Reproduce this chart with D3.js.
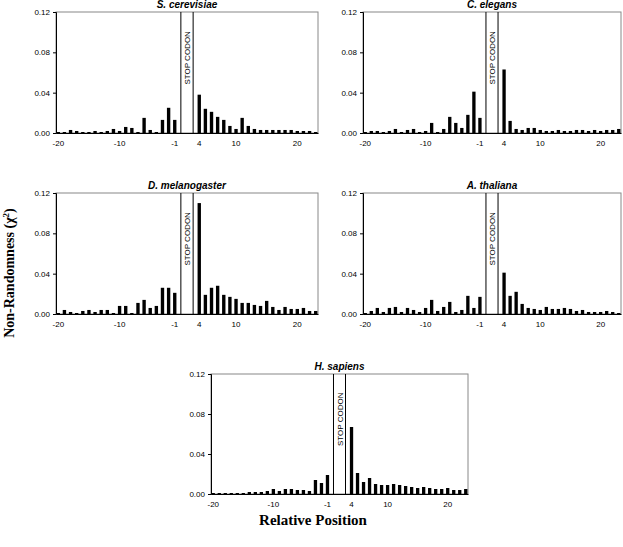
<!DOCTYPE html>
<html><head><meta charset="utf-8">
<script src="https://cdn.jsdelivr.net/npm/d3@7"></script>
<style>body{margin:0;background:#fff}</style></head>
<body><svg id="c" width="623" height="547"></svg>
<script>
const positions = d3.range(-20,0).concat([1,2,3]).concat(d3.range(4,24));
const up = d3.range(-20,0), down = d3.range(4,24);
const species = ["S. cerevisiae","C. elegans","D. melanogaster","A. thaliana","H. sapiens"];
const scerUp = [.001,.001,.003,.002,.001,.001,.002,.001,.002,.004,.002,.006,.005,.001,.015,.003,.001,.013,.025,.013];
const scerDown = [.038,.024,.021,.016,.013,.007,.004,.015,.007,.004,.003,.003,.003,.003,.003,.003,.002,.002,.002,.001];
const celeUp = [.001,.002,.002,.001,.002,.004,.001,.003,.004,.001,.002,.010,.001,.004,.016,.010,.005,.018,.041,.015];
const celeDown = [.063,.012,.004,.003,.005,.005,.003,.002,.002,.003,.002,.002,.003,.003,.002,.003,.002,.003,.003,.004];
const dmelUp = [.001,.004,.002,.001,.003,.004,.002,.004,.004,.001,.008,.008,.001,.011,.014,.006,.008,.026,.026,.021];
const dmelDown = [.110,.019,.026,.028,.019,.017,.015,.011,.011,.009,.008,.013,.007,.004,.007,.005,.005,.006,.003,.003];
const athaUp = [.001,.003,.006,.002,.006,.007,.002,.006,.004,.002,.006,.014,.003,.007,.012,.002,.004,.018,.006,.017];
const athaDown = [.041,.018,.022,.010,.006,.005,.004,.007,.005,.005,.006,.005,.003,.004,.002,.002,.002,.003,.002,.001];
const hsapUp = [.001,.001,.001,.001,.001,.001,.002,.002,.002,.003,.005,.003,.005,.005,.004,.004,.003,.014,.011,.019];
const hsapDown = [.067,.021,.012,.016,.010,.009,.009,.010,.009,.008,.007,.006,.007,.006,.005,.005,.006,.004,.004,.005];
const yTicks = [0,0.04,0.08,0.12];
const xTicks = [-20,-10,-1,4,10,20];
const series = [[scerUp,scerDown],[celeUp,celeDown],[dmelUp,dmelDown],[athaUp,athaDown],[hsapUp,hsapDown]];
const boxes = [[56,12,262,121],[363,12,258,121],[56,193,262,121],[363,193,258,121],[211,374,257,120]];
const svg = d3.select("#c");
species.forEach((name,i)=>{
  const [bx,by,bw,bh] = boxes[i];
  const data = up.map((p,j)=>({p,v:series[i][0][j]})).concat(down.map((p,j)=>({p,v:series[i][1][j]})));
  const x = d3.scaleBand().domain(positions).range([bx,bx+bw]).paddingInner(0.45).paddingOuter(0.1);
  const y = d3.scaleLinear().domain([0,0.12]).range([by+bh,by]);
  const g = svg.append("g");
  g.append("rect").attr("x",bx).attr("y",by).attr("width",bw).attr("height",bh).attr("fill","none").attr("stroke","#888");
  g.selectAll(".b").data(data).join("rect").attr("x",d=>x(d.p)).attr("width",x.bandwidth())
    .attr("y",d=>y(d.v)).attr("height",d=>y(0)-y(d.v)).attr("fill","#000");
  const c1 = x(1)+x.bandwidth()/2, c3 = x(3)+x.bandwidth()/2;
  [c1,c3].forEach(cx=>g.append("line").attr("x1",cx).attr("x2",cx).attr("y1",by).attr("y2",by+bh).attr("stroke","#000"));
  const cx2 = x(2)+x.bandwidth()/2;
  g.append("text").attr("transform",`translate(${cx2+3},${by+bh*0.6}) rotate(-90)`).attr("font-family","Arial").attr("font-size",8).text("STOP CODON");
  const ya = g.append("g").attr("transform",`translate(${bx},0)`).call(d3.axisLeft(y).tickValues(yTicks).tickFormat(d3.format(".2f")).tickSize(3));
  ya.select(".domain").attr("stroke","#000");
  ya.selectAll("text").attr("font-family","Arial").attr("font-size",8).attr("fill","#000");
  const xa = g.append("g").attr("transform",`translate(0,${by+bh})`).call(d3.axisBottom(x).tickValues(xTicks).tickSize(0).tickPadding(7));
  xa.select(".domain").attr("stroke","#000");
  xa.selectAll("text").attr("font-family","Arial").attr("font-size",8).attr("fill","#000");
  g.append("text").attr("x",bx+bw/2).attr("y",by-4).attr("text-anchor","middle").attr("font-family","Arial")
    .attr("font-weight","bold").attr("font-style","italic").attr("font-size",10).text(name);
});
svg.append("text").attr("transform","translate(14,273) rotate(-90)").attr("text-anchor","middle")
  .attr("font-family","Liberation Serif").attr("font-weight","bold").attr("font-size",14).html("Non-Randomness (χ<tspan dy='-5' font-size='9'>2</tspan><tspan dy='5'>)</tspan>");
svg.append("text").attr("x",313).attr("y",525).attr("text-anchor","middle").attr("font-family","Liberation Serif")
  .attr("font-weight","bold").attr("font-size",15).text("Relative Position");
</script></body></html>
